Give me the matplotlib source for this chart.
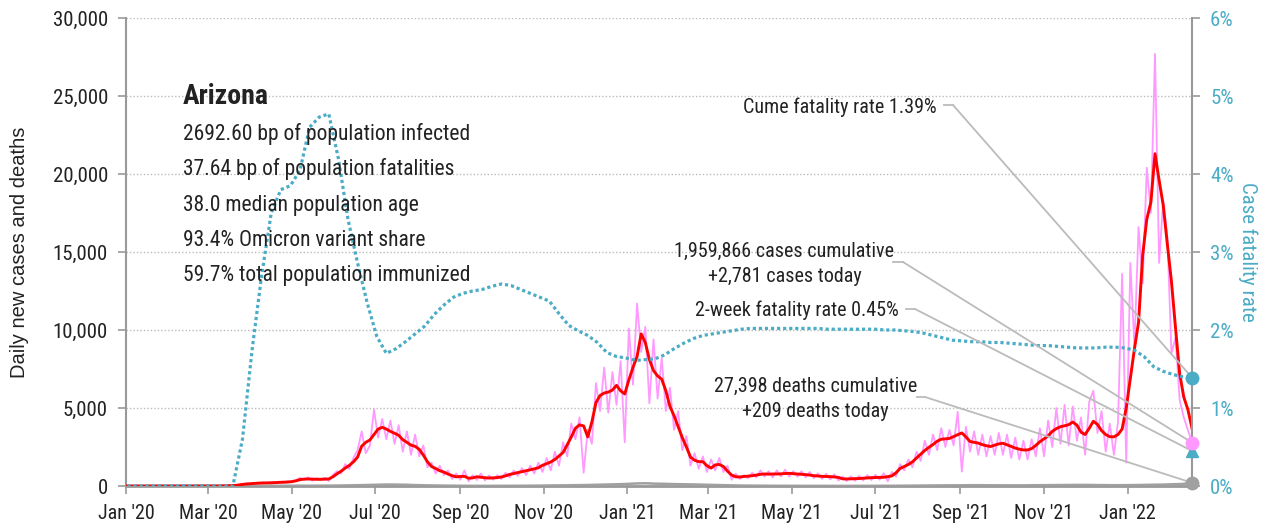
import matplotlib
matplotlib.use('Agg')
import matplotlib.pyplot as plt
import matplotlib.dates as mdates
from matplotlib import font_manager as fm
from matplotlib.lines import Line2D
from matplotlib.ticker import FuncFormatter, MultipleLocator
import pandas as pd


def pick(cands):
    for c in cands:
        try:
            fm.findfont(fm.FontProperties(family=c), fallback_to_default=False)
            return c
        except Exception:
            pass
    return 'DejaVu Sans'


NARROW = pick(['Liberation Sans Narrow', 'Arial Narrow', 'Roboto Condensed',
               'DejaVu Sans Condensed', 'Liberation Sans'])
REG = pick(['Liberation Sans', 'Arial', 'DejaVu Sans'])

# ---------------- data ----------------
dates3 = pd.date_range('2020-01-02', '2022-02-17', freq='3D')   # 260 points
dates7 = pd.date_range('2020-01-02', '2022-02-17', freq='7D')   # 112 points

cases_daily = [
    0, 0, 0, 0, 0, 0, 0,
    0, 0, 0, 0, 0, 0, 0, 0, 0, 0,
    0, 1, 2, 1, 3, 6, 9, 15, 25, 45,
    70, 120, 150, 130, 200, 170, 230, 180, 240, 190,
    260, 210, 300, 250, 380, 520, 380, 560, 330, 500,
    380, 530, 320, 700, 950, 800, 1400, 1100, 1800, 2300,
    3500, 2100, 2600, 4900, 3100, 4300, 3000, 4200, 2700, 3900,
    2200, 3500, 2000, 3300, 1900, 2600, 1200, 1500, 800, 1300,
    700, 1000, 450, 800, 400, 1000, 300, 700, 380, 800,
    350, 680, 400, 700, 450, 850, 550, 1000, 650, 1150,
    700, 1300, 800, 1500, 900, 1800, 1000, 2200, 1300, 2800,
    1900, 4000, 3000, 4400, 850, 3600, 2700, 6600, 4800, 7600,
    4700, 7300, 5200, 8000, 2800, 10100, 6500, 11700, 8600, 10200,
    5300, 9400, 5600, 8200, 4800, 6300, 3600, 4800, 2300, 3200,
    1300, 2100, 1100, 1900, 900, 1700, 1000, 1800, 900, 1300,
    400, 800, 450, 700, 500, 850, 550, 1000, 600, 950,
    550, 1000, 600, 1050, 600, 950, 600, 950, 550, 900,
    500, 800, 450, 780, 420, 750, 350, 600, 320, 620,
    330, 650, 350, 700, 380, 720, 400, 820, 300, 900,
    600, 1400, 1000, 1700, 1200, 2200, 1600, 2900, 2000, 3300,
    2300, 3700, 2500, 3600, 2600, 4750, 920, 3800, 2200, 3500,
    2000, 3300, 1900, 3200, 2000, 3400, 2000, 3300, 1800, 3100,
    1700, 2900, 1700, 3000, 1900, 3700, 1900, 4200, 2500, 5000,
    2700, 5200, 2600, 5100, 2900, 4400, 2000, 5400, 6100, 3400,
    4800, 2200, 4000, 2000, 4100, 13600, 1500, 14300, 9000, 16600,
    13000, 20400, 17500, 27700, 14300, 18300, 16000, 8500, 9500, 5500,
    4400, 3600, 2781,
]

cases_avg = [
    0, 0, 0, 0, 0, 0, 0,
    0, 0, 0, 0, 0, 0, 0, 0, 0, 0,
    0, 1, 1, 2, 3, 5, 8, 12, 20, 30,
    60, 100, 130, 150, 170, 185, 195, 200, 205, 220,
    230, 245, 255, 280, 330, 410, 440, 450, 440, 430,
    430, 440, 450, 590, 780, 950, 1150, 1320, 1550, 1850,
    2550, 2800, 2950, 3300, 3650, 3760, 3650, 3500, 3380, 3250,
    2970, 2800, 2620, 2540, 2350, 1980, 1550, 1250, 1120, 980,
    890, 770, 660, 590, 610, 620, 500, 520, 590, 560,
    530, 510, 520, 540, 580, 650, 740, 800, 860, 920,
    980, 1040, 1100, 1170, 1330, 1430, 1540, 1700, 1920, 2150,
    2640, 3150, 3700, 3920, 3850, 3150, 4100, 5350, 5800, 5960,
    6020, 6150, 6450, 6100, 5900, 6800, 7600, 8300, 9750, 9200,
    8100, 7400, 7050, 6850, 6100, 5100, 4500, 3800, 3100, 2500,
    1850, 1650, 1560, 1560, 1300, 1150, 1350, 1380, 1250, 950,
    700, 590, 580, 610, 630, 660, 700, 750, 770, 760,
    770, 770, 780, 800, 810, 790, 770, 755, 730, 700,
    660, 640, 620, 610, 600, 580, 550, 460, 450, 460,
    470, 480, 500, 520, 535, 545, 555, 560, 600, 650,
    850, 1130, 1250, 1380, 1550, 1800, 2040, 2280, 2480, 2660,
    2870, 3000, 3020, 3050, 3170, 3290, 3400, 3150, 2850, 2800,
    2750, 2650, 2580, 2530, 2620, 2700, 2740, 2640, 2540, 2430,
    2360, 2310, 2310, 2400, 2600, 2840, 3020, 3220, 3500, 3680,
    3800, 3860, 3930, 4100, 3900, 3450, 3300, 3700, 4150, 3950,
    3550, 3300, 3160, 3150, 3300, 3650, 5000, 6900, 8800, 10500,
    14800, 17100, 18200, 21300, 19600, 18000, 15500, 13100, 10100, 7200,
    5700, 4900, 3700,
]

cfr_pct = [
    0, 0, 0,
    0, 0, 0, 0, 0, 0, 0, 0, 0, 0.6,
    1.74, 2.7, 3.5, 3.8, 3.85, 4.05, 4.6, 4.73, 4.77, 4.2,
    3.42, 2.86, 2.35, 1.92, 1.70, 1.76, 1.85, 1.95, 2.05, 2.2,
    2.32, 2.42, 2.47, 2.5, 2.52, 2.56, 2.59, 2.57, 2.52, 2.47,
    2.42, 2.37, 2.21, 2.06, 1.99, 1.93, 1.84, 1.71, 1.66, 1.64,
    1.61, 1.62, 1.63, 1.68, 1.76, 1.83, 1.89, 1.93, 1.95, 1.97,
    1.99, 2.01, 2.02, 2.02, 2.02, 2.02, 2.02, 2.02, 2.02, 2.02,
    2.01, 2.01, 2.01, 2.01, 2.01, 2.01, 2.0, 2.0, 1.99, 1.98,
    1.96, 1.93, 1.9, 1.87, 1.86, 1.85, 1.85, 1.84, 1.84, 1.83,
    1.82, 1.81, 1.80, 1.80, 1.79, 1.78, 1.77, 1.77, 1.77, 1.78,
    1.78, 1.77, 1.74, 1.66, 1.53, 1.47, 1.43, 1.40, 1.39,
]

deaths_daily = [
    0, 0, 0,
    0, 0, 0, 0, 0, 0, 0, 0, 0, 2,
    5, 10, 15, 15, 18, 20, 18, 22, 25, 30,
    40, 50, 65, 80, 95, 90, 80, 60, 45, 35,
    25, 20, 15, 12, 10, 10, 12, 14, 16, 20,
    25, 35, 40, 45, 55, 65, 80, 95, 110, 130,
    160, 175, 150, 140, 120, 110, 100, 85, 70, 55,
    40, 30, 25, 20, 15, 14, 12, 12, 10, 10,
    8, 8, 8, 10, 10, 12, 14, 15, 20, 25,
    30, 35, 40, 45, 45, 50, 50, 45, 45, 40,
    40, 45, 50, 55, 60, 65, 70, 70, 60, 55,
    50, 55, 60, 70, 80, 90, 110, 130, 209,
]

two_week_cfr = 0.45

state = 'Arizona'
stats_lines = [
    '2692.60 bp of population infected',
    '37.64 bp of population fatalities',
    '38.0 median population age',
    '93.4% Omicron variant share',
    '59.7% total population immunized',
]

# ---------------- style ----------------
W, H = 1265, 525
TEAL = '#4BACC6'
PINK = '#FF99FF'
RED = '#FF0000'
GREY = '#A0A0A0'
AXC = '#999999'
TXT = '#222222'
LINEC = '#BBBBBB'

fig = plt.figure(figsize=(W / 100, H / 100), dpi=100)
L, R, T, B = 126, 1192, 18, 486
ax = fig.add_axes([L / W, 1 - B / H, (R - L) / W, (B - T) / H])
ax2 = ax.twinx()

ax.set_xlim(pd.Timestamp('2020-01-01'), pd.Timestamp('2022-02-17'))
ax.set_ylim(0, 30000)
ax2.set_ylim(0, 6)

ax.plot(dates3, cases_daily, color=PINK, lw=1.3, zorder=2)
ax.plot(dates7, deaths_daily, color=GREY, lw=1.8, zorder=3)
ax.plot(dates3, cases_avg, color=RED, lw=2.1, zorder=4)
ax2.plot(dates7, cfr_pct, color=TEAL, lw=2.3, linestyle=(0, (1, 0.9)), zorder=3)

# grid
ax.yaxis.set_major_locator(MultipleLocator(5000))
ax.grid(axis='y', linestyle=(0, (1, 1.5)), color='#BBBBBB', lw=1.0)
ax.set_axisbelow(True)
ax2.yaxis.set_major_locator(MultipleLocator(1))

ax.yaxis.set_major_formatter(FuncFormatter(lambda v, p: f'{int(v):,}'))
ax2.yaxis.set_major_formatter(FuncFormatter(lambda v, p: f'{int(v)}%'))

ax.xaxis.set_major_locator(mdates.MonthLocator(bymonth=[1, 3, 5, 7, 9, 11]))
ax.xaxis.set_major_formatter(mdates.DateFormatter("%b '%y"))

for s in ['top', 'right']:
    ax.spines[s].set_visible(False)
for s in ['top', 'left', 'bottom']:
    ax2.spines[s].set_visible(False)
ax.spines['left'].set_color(AXC)
ax.spines['left'].set_linewidth(1.5)
ax.spines['bottom'].set_color(AXC)
ax.spines['bottom'].set_linewidth(2.0)
ax2.spines['right'].set_color(AXC)
ax2.spines['right'].set_linewidth(1.5)

ax.tick_params(axis='y', length=6, width=1.2, color=AXC, pad=7,
               labelsize=15, labelcolor=TXT)
ax.tick_params(axis='x', length=6, width=1.2, color=AXC, pad=7,
               labelsize=14.5, labelcolor=TXT)
ax2.tick_params(axis='y', length=6, width=1.2, color=AXC, pad=7,
                labelsize=15, labelcolor=TEAL)
for lab in ax.get_xticklabels() + ax.get_yticklabels() + ax2.get_yticklabels():
    lab.set_fontfamily(NARROW)

ax.set_ylabel('Daily new cases and deaths', fontsize=14.5, color=TXT,
              family=REG, labelpad=17)
ax2.set_ylabel('Case fatality rate', fontsize=15, color=TEAL, family=NARROW,
               rotation=-90, labelpad=17)

# end markers
last = dates3[-1]
last_num = mdates.date2num(last)
ax2.plot([last], [cfr_pct[-1]], 'o', color=TEAL, ms=9, zorder=6, clip_on=False)
ax2.plot([last], [two_week_cfr], '^', color=TEAL, ms=9, zorder=6, clip_on=False)
ax2.plot([last_num], [cases_daily[-1]], 'o', color=PINK, ms=9, zorder=6,
         transform=ax.transData, clip_on=False)
ax2.plot([last_num], [deaths_daily[-1]], 'o', color=GREY, ms=9, zorder=6,
         transform=ax.transData, clip_on=False)


def fx(x):
    return x / W


def fy(y):
    return 1 - y / H


# stats text block
fig.text(fx(183), fy(104), state, fontsize=20, fontweight='bold',
         family=NARROW, color=TXT, va='baseline')
for yb, line in zip([140, 175, 210.5, 246, 280.5], stats_lines):
    fig.text(fx(183), fy(yb), line, fontsize=15.5, family=NARROW,
             color=TXT, va='baseline')

# annotations
ann_kw = dict(fontsize=14.5, family=NARROW, color=TXT, va='baseline')
fig.text(fx(937), fy(113), f'Cume fatality rate {cfr_pct[-1]:.2f}%', ha='right', **ann_kw)
fig.text(fx(784.5), fy(256.7), '1,959,866 cases cumulative', ha='center', **ann_kw)
fig.text(fx(784.5), fy(281.7), f'+{cases_daily[-1]:,} cases today', ha='center', **ann_kw)
fig.text(fx(899), fy(316), f'2-week fatality rate {two_week_cfr:.2f}%', ha='right', **ann_kw)
fig.text(fx(815.5), fy(391.7), '27,398 deaths cumulative', ha='center', **ann_kw)
fig.text(fx(815.5), fy(416.7), f'+{deaths_daily[-1]} deaths today', ha='center', **ann_kw)


def connector(x0, x1, y, target_xy, target_trans):
    fig.add_artist(Line2D([fx(x0), fx(x1)], [fy(y), fy(y)], transform=fig.transFigure,
                          color=LINEC, lw=1.3, zorder=5))
    ax2.annotate('', xy=target_xy, xycoords=target_trans,
                 xytext=(x1, H - y), textcoords='figure pixels',
                 arrowprops=dict(arrowstyle='-', color=LINEC, lw=1.3,
                                 shrinkA=0, shrinkB=0), zorder=5,
                 annotation_clip=False)


connector(944, 953, 105, (last_num, cfr_pct[-1]), ax2.transData)
connector(893, 903, 262, (last_num, cases_daily[-1]), ax.transData)
connector(906, 915, 309, (last_num, two_week_cfr), ax2.transData)
connector(917, 925, 397, (last_num, deaths_daily[-1]), ax.transData)

fig.savefig('out.png', dpi=100)
